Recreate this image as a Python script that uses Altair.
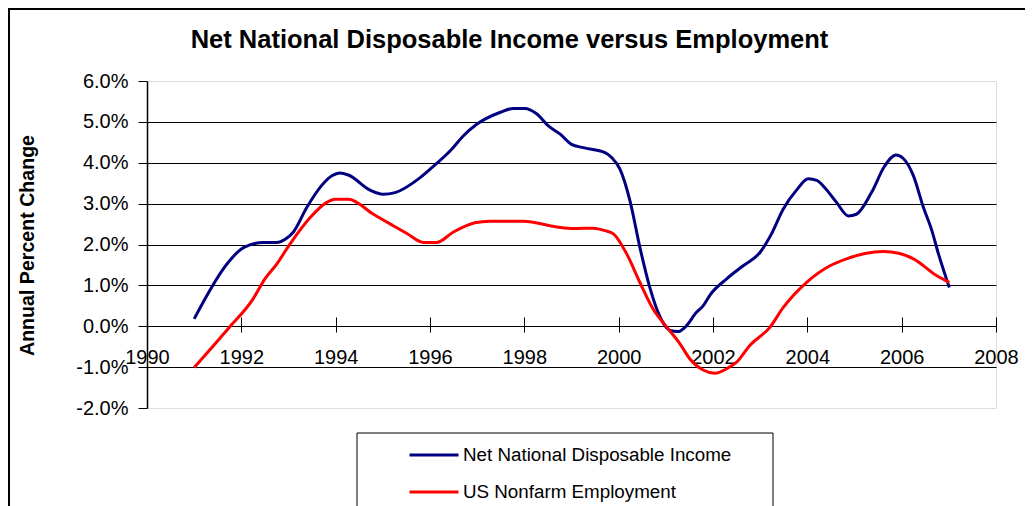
import altair as alt
import pandas as pd

TITLE = "Net National Disposable Income versus Employment"
Y_TITLE = "Annual Percent Change"
SERIES = ["Net National Disposable Income", "US Nonfarm Employment"]
COLORS = ["#000080", "#FF0000"]

nndi_years = [1991.0, 1991.72, 1992.0, 1992.18, 1992.47, 1992.75, 1992.93, 1993.1, 1993.39,
              1993.7, 1993.92, 1994.09, 1994.27, 1994.73, 1995.0, 1995.26, 1995.75, 1996.0,
              1996.46, 1996.71, 1996.99, 1997.48, 1997.77, 1998.01, 1998.26, 1998.51, 1998.76,
              1999.0, 1999.25, 1999.71, 1999.85, 2000.03, 2000.24, 2000.45, 2000.66, 2000.88,
              2001.09, 2001.26, 2001.41, 2001.65, 2001.79, 2001.94, 2002.29, 2002.64, 2003.0,
              2003.24, 2003.49, 2003.77, 2004.02, 2004.2, 2004.37, 2004.62, 2004.87, 2005.04,
              2005.36, 2005.64, 2005.88, 2006.03, 2006.25, 2006.46, 2006.64, 2006.78, 2007.01]
nndi_values = [0.18, 1.56, 1.89, 1.99, 2.05, 2.05, 2.13, 2.30, 2.91,
               3.44, 3.68, 3.75, 3.70, 3.33, 3.23, 3.27, 3.60, 3.84,
               4.33, 4.66, 4.94, 5.23, 5.33, 5.33, 5.20, 4.90, 4.70,
               4.45, 4.37, 4.25, 4.13, 3.84, 3.07, 1.93, 0.95, 0.22,
               -0.10, -0.13, -0.02, 0.34, 0.50, 0.77, 1.16, 1.48, 1.81,
               2.26, 2.87, 3.33, 3.61, 3.57, 3.39, 3.03, 2.70, 2.74,
               3.27, 3.92, 4.19, 4.11, 3.68, 2.91, 2.34, 1.77, 0.95]

emp_years = [1991.0, 1991.72, 1992.25, 1992.5, 1992.75, 1993.03, 1993.46, 1993.81,
             1993.99, 1994.27, 1994.8, 1995.22, 1995.51, 1995.86, 1996.14, 1996.49, 1996.95,
             1997.27, 1997.98, 1998.69, 1999.04, 1999.46, 1999.71, 1999.89, 2000.17, 2000.45,
             2000.73, 2001.02, 2001.3, 2001.51, 2001.79, 2002.04, 2002.29, 2002.5, 2002.78,
             2003.21, 2003.49, 2003.98, 2004.48, 2004.83, 2005.22, 2005.61, 2005.96, 2006.25,
             2006.74, 2007.01]
emp_values = [-1.01, -0.06, 0.67, 1.16, 1.52, 2.01, 2.66, 3.03,
              3.11, 3.11, 2.74, 2.46, 2.27, 2.05, 2.05, 2.30, 2.53,
              2.57, 2.57, 2.43, 2.39, 2.40, 2.34, 2.26, 1.77, 1.07,
              0.42, -0.02, -0.43, -0.80, -1.07, -1.15, -1.04, -0.88, -0.47,
              -0.02, 0.46, 1.07, 1.48, 1.65, 1.78, 1.83, 1.78, 1.65,
              1.24, 1.07]

x_ticks = list(range(1990, 2009, 2))
y_ticks = list(range(-2, 7))

rows = []
for i, (yr, v) in enumerate(zip(nndi_years, nndi_values)):
    rows.append({"year": yr, "value": v, "series": SERIES[0], "order": i})
for i, (yr, v) in enumerate(zip(emp_years, emp_values)):
    rows.append({"year": yr, "value": v, "series": SERIES[1], "order": i})
df = pd.DataFrame(rows)

FONT = "Liberation Sans"
W, H = 849, 327

lines = alt.Chart(df).mark_line(strokeWidth=3, interpolate="monotone").encode(
    x=alt.X("year:Q",
            scale=alt.Scale(domain=[1990, 2008], nice=False, zero=False),
            axis=alt.Axis(values=x_ticks, format="d", title=None, domain=False,
                          grid=False, offset=-91, tickSize=15, tickColor="black",
                          tickWidth=1, labelPadding=15, labelFont=FONT,
                          labelFontSize=20, labelColor="black", labelFlush=False,
                          labelOverlap=False)),
    y=alt.Y("value:Q",
            scale=alt.Scale(domain=[-2, 6], nice=False, zero=False),
            axis=alt.Axis(values=y_ticks,
                          labelExpr="(datum.value < 0 ? '-' : '') + format(abs(datum.value), '.1f') + '%'",
                          title=Y_TITLE, titleFont=FONT, titleFontSize=19.6,
                          titleFontWeight="bold", titleColor="black",
                          titleAngle=270, titleX=-120, titleY=164,
                          titleAlign="center", titleBaseline="middle",
                          domainColor="black", domainWidth=1.5,
                          tickColor="black", tickSize=9, tickWidth=1,
                          labelPadding=10, labelFont=FONT, labelFontSize=20,
                          labelColor="black",
                          grid=True, gridColor="black", gridWidth=1,
                          gridOpacity=alt.condition("datum.value <= -2 || datum.value >= 6",
                                                    alt.value(0), alt.value(1)))),
    color=alt.Color("series:N",
                    scale=alt.Scale(domain=SERIES, range=COLORS),
                    legend=alt.Legend(orient="none", legendX=273, legendY=360,
                                      title=None, symbolType="M-2,0L2,0",
                                      symbolSize=600, symbolStrokeWidth=3,
                                      labelFont=FONT, labelFontSize=18.8,
                                      labelColor="black", labelOffset=15,
                                      labelLimit=500, rowPadding=13, padding=0)),
    order="order:Q",
)

one = pd.DataFrame({"k": [0]})
outer_frame = alt.Chart(one).mark_rect(filled=False, stroke="black", strokeWidth=2).encode(
    x=alt.value(-138), x2=alt.value(W + 60), y=alt.value(-72), y2=alt.value(H + 150))
legend_box = alt.Chart(one).mark_rect(filled=False, stroke="black", strokeWidth=1).encode(
    x=alt.value(210), x2=alt.value(626), y=alt.value(352), y2=alt.value(H + 150))

chart = alt.layer(outer_frame, legend_box, lines).properties(
    width=W, height=H,
    title=alt.TitleParams(TITLE, font=FONT, fontSize=25.5, fontWeight="bold",
                          color="black", anchor="middle", frame="group",
                          dx=-62, dy=73, offset=28),
    autosize=alt.AutoSizeParams(type="none"),
    padding={"left": 139, "top": 73, "right": 29, "bottom": 98},
).configure_view(stroke="#808080", strokeWidth=2).configure(background="white")

chart.save("out.html", embed_options={"renderer": "svg", "actions": False})
